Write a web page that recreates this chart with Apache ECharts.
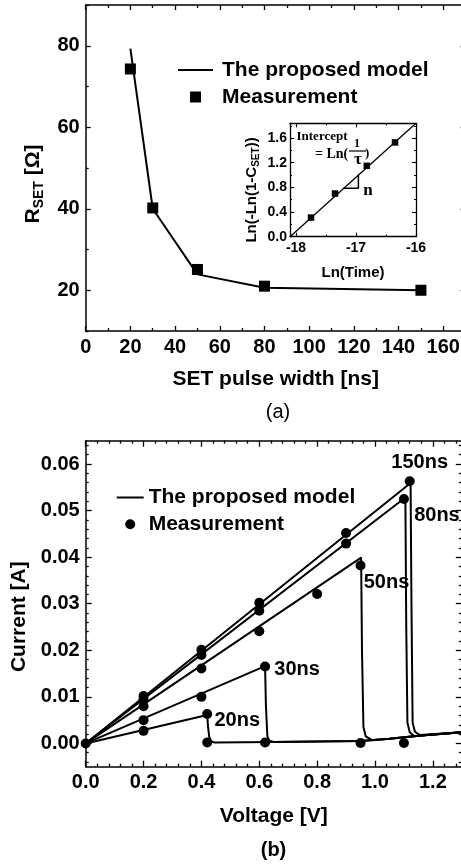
<!DOCTYPE html>
<html><head><meta charset="utf-8">
<script src="https://cdn.jsdelivr.net/npm/echarts@6/dist/echarts.min.js"></script>
<style>html,body{margin:0;padding:0;overflow:hidden;background:#fff}#c{width:480px;height:864px}</style>
</head><body><div id="c"></div><script>
// ---------- (a) R_SET vs SET pulse width ----------
const pulseWidths = [20, 30, 50, 80, 150];
const rsetMeasured = [74.3, 40.2, 25.1, 21.0, 20.0];
const modelWidths = [20, 30, 50, 80, 150];
const rsetModel = [79.3, 40.0, 23.9, 20.6, 20.0];
const aXLabels = [0, 20, 40, 60, 80, 100, 120, 140, 160];
const aXMinor = [10, 30, 50, 70, 90, 110, 130, 150];
const aYLabels = [20, 40, 60, 80];
const aYMinor = [10, 30, 50, 70, 90];

// ---------- inset: Ln(-Ln(1-C_SET)) vs Ln(Time) ----------
const insetLnTime = [-17.75, -17.35, -16.82, -16.35];
const insetLnC = [0.31, 0.70, 1.15, 1.53];
const insetFitX = [-18.1, -16.0];
const insetFitY = [0.0, 1.84];
const slopeTriX = [-17.21, -16.96, -16.96];
const slopeTriY = [0.787, 0.787, 1.006];
const inXLabels = [-18, -17, -16];
const inXMinor = [-17.5, -16.5];
const inYLabels = [0, 0.4, 0.8, 1.2, 1.6];
const inYMinor = [0.2, 0.6, 1.0, 1.4, 1.8];

// ---------- (b) I-V curves ----------
const pulseNames = ['20ns', '30ns', '50ns', '80ns', '150ns'];
const lowState = [[0.445, 0.0002], [0.65, 0.0003], [0.95, 0.0005], [1.05, 0.0010], [1.16, 0.0017], [1.30, 0.0024]];
const model20 = [[0, 0], [0.420, 0.0061], [0.423, 0.0035], [0.427, 0.0014], [0.433, 0.0005], [0.445, 0.0002]];
const model30 = [[0, 0], [0.620, 0.0166], [0.623, 0.0080], [0.628, 0.0015], [0.635, 0.0006], [0.650, 0.0003]];
const model50 = [[0, 0], [0.952, 0.0399], [0.955, 0.0200], [0.960, 0.0035], [0.968, 0.0015], [0.990, 0.0007]];
const model80 = [[0, 0], [1.105, 0.0528], [1.108, 0.0250], [1.112, 0.0045], [1.120, 0.0024], [1.135, 0.0016]];
const model150 = [[0, 0], [1.123, 0.0559], [1.126, 0.0300], [1.130, 0.0045], [1.138, 0.0025], [1.155, 0.0018]];
const meas20 = [[0, 0], [0.2, 0.0027], [0.42, 0.0063], [0.42, 0.0002]];
const meas30 = [[0.2, 0.0050], [0.4, 0.0100], [0.62, 0.0165], [0.62, 0.0002]];
const meas50 = [[0.2, 0.0080], [0.4, 0.0161], [0.6, 0.0241], [0.8, 0.0321], [0.95, 0.0382], [0.95, 0.0001]];
const meas80 = [[0.2, 0.0095], [0.4, 0.0190], [0.6, 0.0285], [0.9, 0.0429], [1.10, 0.0525], [1.10, 0.0001]];
const meas150 = [[0.2, 0.0102], [0.4, 0.0201], [0.6, 0.0302], [0.9, 0.0452], [1.12, 0.0563]];
const peakIndex = [2, 2, 4, 4, 4];
const bXLabels = [0, 0.2, 0.4, 0.6, 0.8, 1.0, 1.2];
const bYLabels = [0, 0.01, 0.02, 0.03, 0.04, 0.05, 0.06];

// ---------- styling / layout ----------
const FONT = "'Liberation Sans', Arial, Helvetica, sans-serif";
const SERIF = "'Liberation Serif', 'Times New Roman', serif";
const labelOffsets = [[30, 6], [32, 3], [26, 17], [33, 17], [10, -19]];

function minorsBetween(start, end, step, majors) {
  const out = [];
  for (let k = 0; start + k * step <= end + 1e-9; k++) {
    const v = +(start + k * step).toFixed(6);
    if (!majors.some(m => Math.abs(m - v) < 1e-9)) out.push(v);
  }
  return out;
}
const bXMinor = minorsBetween(0, 1.28, 0.04, bXLabels);
const bYMinor = minorsBetween(-0.004, 0.064, 0.002, bYLabels);

function axisSet(dim, grid, min, max, labels, minors, fmt, o) {
  const line = {show: true, onZero: false, lineStyle: {color: '#000', width: o.lineW}};
  const noLine = {show: false, onZero: false};
  const base = {type: 'value', gridIndex: grid, min: min, max: max, splitLine: {show: false}, minorTick: {show: false}};
  const posA = dim === 'x' ? 'bottom' : 'left';
  const posB = dim === 'x' ? 'top' : 'right';
  const tick = (vals, len) => ({show: true, inside: true, length: len, customValues: vals, lineStyle: {color: '#000', width: o.tickW}});
  return [
    Object.assign({}, base, {
      position: posA, axisLine: line, axisTick: tick(labels, o.tickLen),
      axisLabel: {show: true, customValues: labels, formatter: fmt, margin: o.labelMargin, color: '#000',
        fontFamily: FONT, fontWeight: 'bold', fontSize: o.labelSize},
      name: o.name, nameLocation: 'middle', nameGap: o.nameGap, nameTextStyle: o.nameStyle
    }),
    Object.assign({}, base, {position: posA, axisLine: noLine, axisTick: tick(minors, o.minorLen), axisLabel: {show: false}}),
    Object.assign({}, base, {position: posB, axisLine: line, axisTick: tick(labels, o.tickLen), axisLabel: {show: false}}),
    Object.assign({}, base, {position: posB, axisLine: noLine, axisTick: tick(minors, o.minorLen), axisLabel: {show: false}})
  ];
}
const nameStyle = (size, subSize, subPad, shift) => ({
  fontFamily: FONT, fontWeight: 'bold', fontSize: size, color: '#000',
  padding: shift ? [0, shift, 0, 0] : 0,
  rich: {sub: {fontFamily: FONT, fontWeight: 'bold', fontSize: subSize, color: '#000', padding: [subPad, 0, 0, 0]}}
});

const xAxes = [].concat(
  axisSet('x', 0, 0, 170, aXLabels, aXMinor, v => String(v),
    {lineW: 1.5, tickW: 1.3, tickLen: 5, minorLen: 3, labelMargin: 6, labelSize: 20,
     name: 'SET pulse width [ns]', nameGap: 38, nameStyle: nameStyle(21, 14, 10, 0)}),
  axisSet('x', 1, -18.1, -16, inXLabels, inXMinor, v => String(v),
    {lineW: 1.3, tickW: 1.1, tickLen: 4, minorLen: 2, labelMargin: 4, labelSize: 14,
     name: 'Ln(Time)', nameGap: 29, nameStyle: nameStyle(15, 10, 6, 0)}),
  axisSet('x', 2, 0, 1.3, bXLabels, bXMinor, v => v.toFixed(1),
    {lineW: 1.5, tickW: 1.3, tickLen: 6, minorLen: 3, labelMargin: 6, labelSize: 20,
     name: 'Voltage [V]', nameGap: 39, nameStyle: nameStyle(21, 14, 10, 0)})
);
const yAxes = [].concat(
  axisSet('y', 0, 10, 90, aYLabels, aYMinor, v => String(v),
    {lineW: 1.5, tickW: 1.3, tickLen: 5, minorLen: 3, labelMargin: 6, labelSize: 20,
     name: 'R{sub|SET} [Ω]', nameGap: 35, nameStyle: nameStyle(21, 14, 12, 32)}),
  axisSet('y', 1, 0, 1.84, inYLabels, inYMinor, v => v.toFixed(1),
    {lineW: 1.3, tickW: 1.1, tickLen: 4, minorLen: 2, labelMargin: 3, labelSize: 14,
     name: 'Ln(-Ln(1-C{sub|SET}))', nameGap: 29, nameStyle: nameStyle(15, 10, 8, 20)}),
  axisSet('y', 2, -0.005, 0.065, bYLabels, bYMinor, v => v.toFixed(2),
    {lineW: 1.5, tickW: 1.3, tickLen: 6, minorLen: 3, labelMargin: 6, labelSize: 20,
     name: 'Current [A]', nameGap: 50, nameStyle: nameStyle(21, 14, 10, 26)})
);

const zip = (xs, ys) => xs.map((x, i) => [x, ys[i]]);
const lineSeries = (name, data, xi, yi, w) => ({
  type: 'line', name: name, data: data, xAxisIndex: xi, yAxisIndex: yi, symbol: 'none',
  color: '#000', lineStyle: {color: '#000', width: w, opacity: 1}, animation: false, z: 3
});
const scatterSeries = (name, data, xi, yi, sym, size) => ({
  type: 'scatter', name: name, data: data, xAxisIndex: xi, yAxisIndex: yi, symbol: sym,
  symbolSize: size, color: '#000', itemStyle: {color: '#000', opacity: 1}, animation: false, z: 4
});

const series = [
  lineSeries('The proposed model', zip(modelWidths, rsetModel), 0, 0, 2),
  scatterSeries('Measurement', zip(pulseWidths, rsetMeasured), 0, 0, 'rect', 11),
  lineSeries('inset fit', zip(insetFitX, insetFitY), 4, 4, 1.3),
  lineSeries('slope', zip(slopeTriX, slopeTriY), 4, 4, 1.5),
  scatterSeries('inset data', zip(insetLnTime, insetLnC), 4, 4, 'rect', 6.5)
];
const models = [model20, model30, model50, model80, model150];
const measures = [meas20, meas30, meas50, meas80, meas150];
models.forEach(m => {
  const last = m[m.length - 1][0];
  const data = m.concat(lowState.filter(p => p[0] > last + 0.02));
  series.push(lineSeries('The proposed model', data, 8, 8, 2));
});
measures.forEach((m, k) => {
  const data = m.map((p, i) => i === peakIndex[k] ? {
    value: p,
    label: {show: true, position: 'inside', offset: labelOffsets[k], formatter: pulseNames[k],
      color: '#000', opacity: 1, fontFamily: FONT, fontWeight: 'bold', fontSize: 20}
  } : p);
  series.push(scatterSeries('Measurement', data, 8, 8, 'circle', 10));
});

const lineIcon = w => 'path://M0,0H' + w + 'V2H0Z';
const squareIcon = 'path://M0,0H1V1H0Z';
const circleIcon = 'path://M0,5A5,5 0 1,0 10,5A5,5 0 1,0 0,5Z';
const legendBase = {
  orient: 'vertical', padding: 0, selectedMode: false, symbolKeepAspect: true,
  itemStyle: {color: '#000', borderWidth: 0, opacity: 1}
};

const option = {
  backgroundColor: '#fff',
  animation: false,
  grid: [
    {left: 85.7, top: 5, width: 379.9, height: 326},
    {left: 290, top: 123.3, width: 126, height: 113.4},
    {left: 85.7, top: 440.7, width: 376.1, height: 326}
  ],
  xAxis: xAxes,
  yAxis: yAxes,
  legend: [
    Object.assign({}, legendBase, {
      left: 178, top: 59.5, itemGap: 6, itemWidth: 35, itemHeight: 11,
      textStyle: {fontFamily: FONT, fontWeight: 'bold', fontSize: 21, color: '#000', padding: [0, 0, 0, 4]},
      data: [{name: 'The proposed model', icon: lineIcon(35)}, {name: 'Measurement', icon: squareIcon}]
    }),
    Object.assign({}, legendBase, {
      left: 116.7, top: 487, itemGap: 5.7, itemWidth: 27, itemHeight: 10,
      textStyle: {fontFamily: FONT, fontWeight: 'bold', fontSize: 21, color: '#000'},
      data: [{name: 'The proposed model', icon: lineIcon(27)}, {name: 'Measurement', icon: circleIcon}]
    })
  ],
  graphic: [
    {type: 'text', x: 278, y: 412, style: {text: '(a)', fontFamily: FONT, fontSize: 20, fill: '#000', align: 'center', verticalAlign: 'middle'}},
    {type: 'text', x: 273.5, y: 850, style: {text: '(b)', fontFamily: FONT, fontWeight: 'bold', fontSize: 20, fill: '#000', align: 'center', verticalAlign: 'middle'}},
    {type: 'text', x: 322, y: 137, style: {text: 'Intercept', fontFamily: SERIF, fontWeight: 'bold', fontSize: 13, fill: '#000', align: 'center', verticalAlign: 'middle'}},
    {type: 'text', x: 315, y: 154, style: {text: '= Ln(', fontFamily: SERIF, fontWeight: 'bold', fontSize: 14, fill: '#000', align: 'left', verticalAlign: 'middle'}},
    {type: 'text', x: 357, y: 144, style: {text: '1', fontFamily: SERIF, fontWeight: 'bold', fontSize: 12, fill: '#000', align: 'center', verticalAlign: 'middle'}},
    {type: 'line', shape: {x1: 349, y1: 151, x2: 366, y2: 151}, style: {stroke: '#000', lineWidth: 1.2}},
    {type: 'text', x: 358, y: 160, style: {text: 'τ', fontFamily: SERIF, fontWeight: 'bold', fontSize: 17, fill: '#000', align: 'center', verticalAlign: 'middle'}},
    {type: 'text', x: 365, y: 154, style: {text: ')', fontFamily: SERIF, fontWeight: 'bold', fontSize: 13, fill: '#000', align: 'left', verticalAlign: 'middle'}},
    {type: 'text', x: 368, y: 191, style: {text: 'n', fontFamily: SERIF, fontWeight: 'bold', fontSize: 17, fill: '#000', align: 'center', verticalAlign: 'middle'}}
  ],
  series: series
};
const chart = echarts.init(document.getElementById('c'), null, {renderer: 'canvas'});
chart.setOption(option);
</script></body></html>
